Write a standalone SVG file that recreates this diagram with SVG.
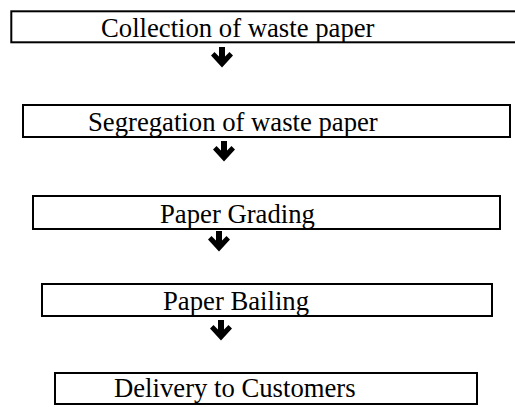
<svg xmlns="http://www.w3.org/2000/svg" xmlns:xlink="http://www.w3.org/1999/xlink" width="515" height="407" viewBox="0 0 515 407">
<style>
.box{fill:#fff;stroke:#000;stroke-width:2}
.lbl{font-family:"Liberation Serif","Times New Roman",serif;font-size:26.7px;fill:#000}
.arr{fill:#000}
</style>
<defs>
<path id="arrow" d="M-3,0 H3 V9.5 L7.5,5 L11,8.5 L0,20.5 L-11,8.5 L-7.5,5 L-3,9.5 Z"/>
</defs>
<rect width="515" height="407" fill="#fff"/>
<g id="n1">
<rect class="box" x="11.3" y="11.3" width="520" height="31"/>
<text class="lbl" x="101" y="37">Collection of waste paper</text>
</g>
<g id="n2">
<rect class="box" x="23" y="105" width="487" height="32"/>
<text class="lbl" x="88" y="131">Segregation of waste paper</text>
</g>
<g id="n3">
<rect class="box" x="33" y="196" width="467" height="33"/>
<text class="lbl" x="160" y="223">Paper Grading</text>
</g>
<g id="n4">
<rect class="box" x="42" y="284" width="450" height="32"/>
<text class="lbl" x="163" y="310">Paper Bailing</text>
</g>
<g id="n5">
<rect class="box" x="55" y="373" width="422" height="31"/>
<text class="lbl" x="114" y="397">Delivery to Customers</text>
</g>
<g id="connectors" class="arr">
<use href="#arrow" x="222" y="47"/>
<use href="#arrow" x="224" y="141"/>
<use href="#arrow" x="219" y="231"/>
<use href="#arrow" x="221" y="320"/>
</g>
</svg>
